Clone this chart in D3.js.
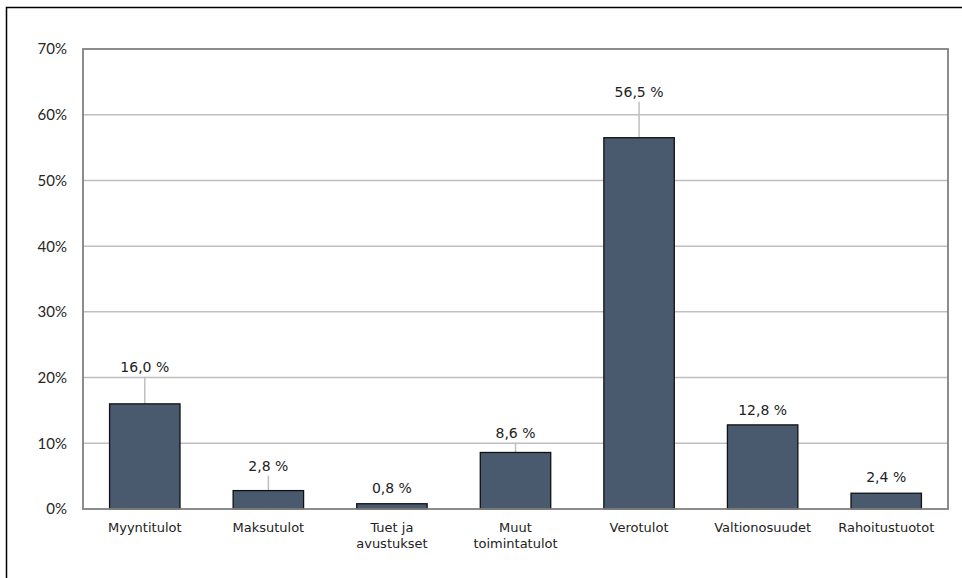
<!DOCTYPE html>
<html>
<head>
<meta charset="utf-8">
<script src="https://cdn.jsdelivr.net/npm/d3@7"></script>
<style>
  body { margin: 0; background: #fff; }
  svg { display: block; }
</style>
</head>
<body>
<div class="chart"></div>
<script>
// data
var categories = ["Myyntitulot", "Maksutulot", "Tuet ja|avustukset", "Muut|toimintatulot", "Verotulot", "Valtionosuudet", "Rahoitustuotot"];
var values = [16.0, 2.8, 0.8, 8.6, 56.5, 12.8, 2.4];
var valueLabels = ["16,0 %", "2,8 %", "0,8 %", "8,6 %", "56,5 %", "12,8 %", "2,4 %"];
var yTicks = [0, 10, 20, 30, 40, 50, 60, 70];
// how far each value label sits above its bar (moved by hand in the original)
var labelLift = [37, 25, 16, 20, 46, 15, 16];

var width = 962;
var height = 578;
var margin = {left: 83, right: 14, top: 49, bottom: 69};

var svg = d3.select('.chart').append('svg')
    .attr('width', width)
    .attr('height', height);

// outer frame (only top and left edges show)
svg.append('path')
    .attr('d', 'M6.5,' + height + 'V7.5H' + width)
    .attr('fill', 'none')
    .attr('stroke', '#000')
    .attr('stroke-width', 1.5);

var x = d3.scaleBand()
    .domain(categories)
    .range([margin.left, width - margin.right])
    .paddingInner(0.43)
    .paddingOuter(0.215);

var y = d3.scaleLinear()
    .domain([0, 70])
    .range([height - margin.bottom, margin.top]);

var cx = function (i) { return x(categories[i]) + x.bandwidth() / 2; };

// gridlines
svg.append('g').selectAll('line')
    .data(yTicks.slice(1, -1))
    .enter().append('line')
    .attr('x1', margin.left).attr('x2', width - margin.right)
    .attr('y1', function (d) { return y(d); })
    .attr('y2', function (d) { return y(d); })
    .attr('stroke', '#bfbfbf')
    .attr('stroke-width', 1.5);

// y tick labels
svg.append('g').selectAll('text')
    .data(yTicks)
    .enter().append('text')
    .attr('x', 67)
    .attr('y', function (d) { return y(d); })
    .attr('dy', '0.36em')
    .attr('text-anchor', 'end')
    .attr('font-family', 'Lato, sans-serif')
    .attr('font-size', 15)
    .attr('fill', '#262626')
    .text(function (d) { return d + '%'; });

// leader lines
svg.append('g').selectAll('line')
    .data(d3.range(values.length).filter(function (i) { return labelLift[i] > 18; }))
    .enter().append('line')
    .attr('x1', function (i) { return cx(i); })
    .attr('x2', function (i) { return cx(i); })
    .attr('y1', function (i) { return y(values[i]) - labelLift[i] + 10; })
    .attr('y2', function (i) { return y(values[i]); })
    .attr('stroke', '#bfbfbf')
    .attr('stroke-width', 1.5);

// bars
svg.append('g').selectAll('rect')
    .data(values)
    .enter().append('rect')
    .attr('x', function (d, i) { return x(categories[i]); })
    .attr('y', function (d) { return y(d); })
    .attr('width', x.bandwidth())
    .attr('height', function (d) { return y(0) - y(d); })
    .attr('fill', '#4a5a6e')
    .attr('stroke', '#111')
    .attr('stroke-width', 1.3);

// plot area border
svg.append('rect')
    .attr('x', margin.left)
    .attr('y', margin.top)
    .attr('width', width - margin.left - margin.right)
    .attr('height', height - margin.top - margin.bottom)
    .attr('fill', 'none')
    .attr('stroke', '#808080')
    .attr('stroke-width', 1.8);

// value labels
svg.append('g').selectAll('text')
    .data(values)
    .enter().append('text')
    .attr('x', function (d, i) { return cx(i); })
    .attr('y', function (d, i) { return y(d) - labelLift[i]; })
    .attr('dy', '0.36em')
    .attr('text-anchor', 'middle')
    .attr('font-family', 'DejaVu Sans, sans-serif')
    .attr('font-size', 14)
    .attr('fill', '#222')
    .text(function (d, i) { return valueLabels[i]; });

// category labels
var cat = svg.append('g').selectAll('text')
    .data(categories)
    .enter().append('text')
    .attr('text-anchor', 'middle')
    .attr('font-family', 'DejaVu Sans, sans-serif')
    .attr('font-size', 13)
    .attr('fill', '#222');

cat.each(function (d) {
  var lines = d.split('|');
  var t = d3.select(this);
  lines.forEach(function (l, j) {
    t.append('tspan')
      .attr('x', x(d) + x.bandwidth() / 2)
      .attr('y', 532 + j * 16)
      .text(l);
  });
});
</script>
</body>
</html>
